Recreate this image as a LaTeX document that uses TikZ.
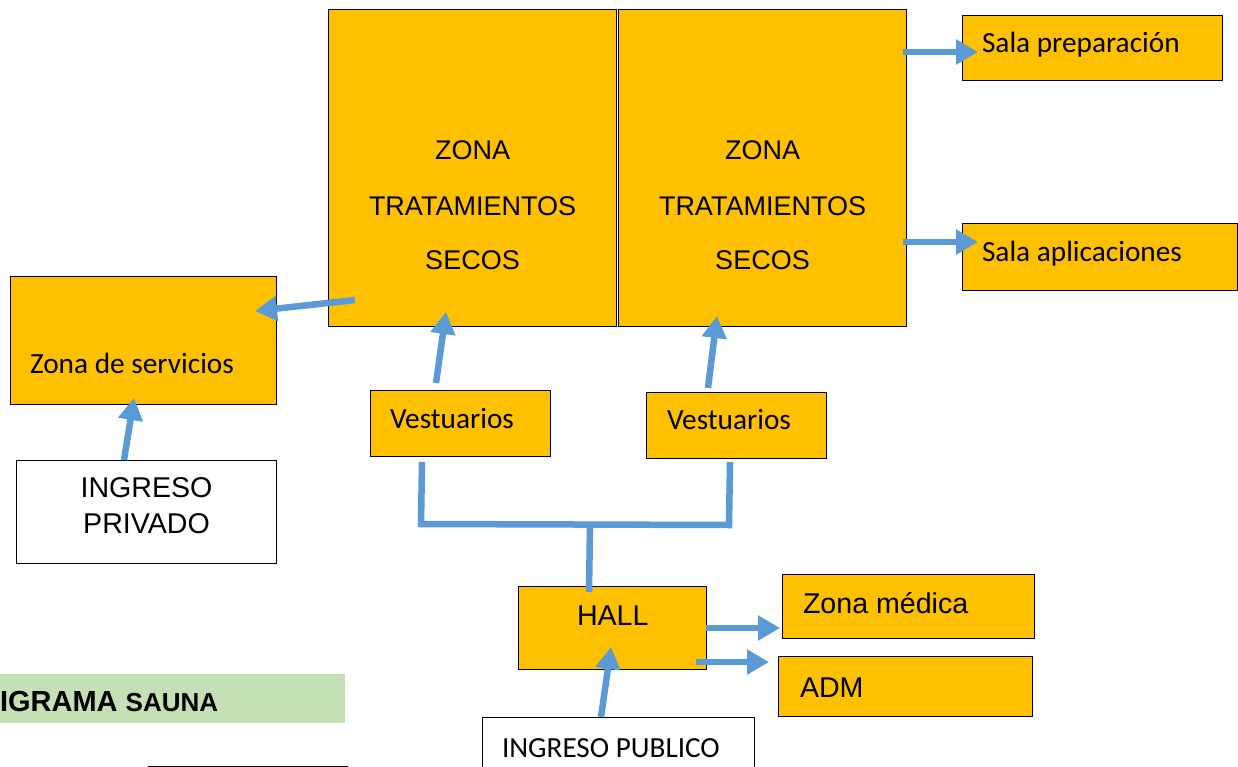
\documentclass[tikz,border=0pt]{standalone}
\usepackage{fontspec}
\usetikzlibrary{arrows.meta}
\newfontfamily\arialf{Liberation Sans}
\newfontfamily\calibrif{Carlito}
\definecolor{zoneorange}{HTML}{FFC000}
\definecolor{flowblue}{HTML}{5B9BD5}
\definecolor{titlegreen}{HTML}{C5E0B4}
\tikzset{
  zbox/.style={draw=black, line width=1pt, fill=zoneorange, inner sep=0pt, outer sep=0pt},
  wbox/.style={draw=black, line width=1pt, fill=white, inner sep=0pt, outer sep=0pt},
  conn/.style={draw=flowblue, line width=6.5pt},
  flow/.style={conn, -{Triangle[length=22pt,width=24pt]}},
  lbl/.style={inner sep=0pt, outer sep=0pt, anchor=base west},
  clbl/.style={inner sep=0pt, outer sep=0pt, anchor=base},
  arialtxt/.style={font=\arialf\fontsize{28.6}{34}\selectfont},
  caltxt/.style={font=\calibrif\fontsize{29.3}{34}\selectfont},
  zonatxt/.style={font=\arialf\fontsize{27}{30}\selectfont}
}
\begin{document}
\begin{tikzpicture}[x=1pt,y=-1pt]
\useasboundingbox (0,0) rectangle (1238,767);
\clip (0,0) rectangle (1238,767);
\fill[white] (0,0) rectangle (1238,767);

% boxes
\node[zbox, minimum width=288pt, minimum height=316pt] (z1) at (472,168) {};
\node[zbox, minimum width=288pt, minimum height=316pt] (z2) at (762,168) {};
\node[zbox, minimum width=260pt, minimum height=65pt] (sp) at (1092,48.5) {};
\node[zbox, minimum width=275pt, minimum height=66pt] (sa) at (1099.5,257) {};
\node[zbox, minimum width=266pt, minimum height=128pt] (zs) at (143,340) {};
\node[wbox, minimum width=260pt, minimum height=103pt] (ipriv) at (146,511.5) {};
\node[zbox, minimum width=180pt, minimum height=66pt] (v1) at (460,423) {};
\node[zbox, minimum width=180pt, minimum height=66pt] (v2) at (736,425) {};
\node[zbox, minimum width=188pt, minimum height=83pt] (hall) at (612,627.5) {};
\node[zbox, minimum width=252pt, minimum height=64pt] (zm) at (908,606) {};
\node[zbox, minimum width=254pt, minimum height=60pt] (adm) at (905,686) {};
\node[wbox, minimum width=272pt, minimum height=83pt] (ipub) at (618,758.5) {};
\node[wbox, minimum width=199pt, minimum height=60pt] (bbox) at (247.5,796) {};
\node[fill=titlegreen, inner sep=0pt, outer sep=0pt, minimum width=345pt, minimum height=49pt] (title) at (172.5,698.5) {};

% texts
\foreach \b/\cx in {z1/472.5, z2/762.5} {
  \node[clbl, zonatxt] at (\cx,160) {ZONA};
  \node[clbl, zonatxt] at (\cx,215) {TRATAMIENTOS};
  \node[clbl, zonatxt] at (\cx,269) {SECOS};
}
\node[lbl, caltxt] (tsp) at (982,53) {Sala preparación};
\node[lbl, caltxt] (tsa) at (982,261) {Sala aplicaciones};
\node[lbl, caltxt] (tzs) at (30,373) {Zona de servicios};
\node[lbl, caltxt] (tv1) at (390,428) {Vestuarios};
\node[lbl, caltxt] (tv2) at (667,429) {Vestuarios};
\node[clbl, arialtxt] (tip1) at (146.5,497) {INGRESO};
\node[clbl, arialtxt] (tip2) at (146.5,533) {PRIVADO};
\node[lbl, arialtxt] (thall) at (577,625) {HALL};
\node[lbl, arialtxt] (tzm) at (803,613) {Zona médica};
\node[lbl, arialtxt] (tadm) at (800,697) {ADM};
\node[lbl, font=\calibrif\fontsize{29.2}{34}\selectfont] (tipub) at (502,757) {INGRESO PUBLICO};
\node[lbl, font=\arialf\bfseries\fontsize{29}{34}\selectfont] (ttitle) at (0,711) {IGRAMA \fontsize{26}{30}\selectfont SAUNA};

% connector end points
\coordinate (zsA) at (355,300);
\coordinate (zsB) at (255,311);
\coordinate (ipA) at (124,460);
\coordinate (ipB) at (134,398);
\coordinate (v1A) at (436,383);
\coordinate (v1B) at (446,312);
\coordinate (v2A) at (708,388);
\coordinate (v2B) at (717,316);
\coordinate (spA) at (903,52);
\coordinate (spB) at (978,52);
\coordinate (saA) at (903,242);
\coordinate (saB) at (978,242);
\coordinate (hzA) at (706,628);
\coordinate (hzB) at (780,628);
\coordinate (haA) at (696,662);
\coordinate (haB) at (769,662);
\coordinate (puA) at (601,717);
\coordinate (puB) at (611,647);
\coordinate (l1) at (422,462);
\coordinate (l2) at (421,524);
\coordinate (r2) at (729,525);
\coordinate (r1) at (730,462);
\coordinate (m1) at (590,525);
\coordinate (m2) at (589,592);

% connectors
\draw[flow] (zsA) -- (zsB);
\draw[flow] (ipA) -- (ipB);
\draw[flow] (v1A) -- (v1B);
\draw[flow] (v2A) -- (v2B);
\draw[flow] (spA) -- (spB);
\draw[flow] (saA) -- (saB);
\draw[flow] (hzA) -- (hzB);
\draw[flow] (haA) -- (haB);
\draw[flow] (puA) -- (puB);
\draw[conn] (l1) -- (l2) -- (r2) -- (r1);
\draw[conn] (m1) -- (m2);
\end{tikzpicture}
\end{document}
